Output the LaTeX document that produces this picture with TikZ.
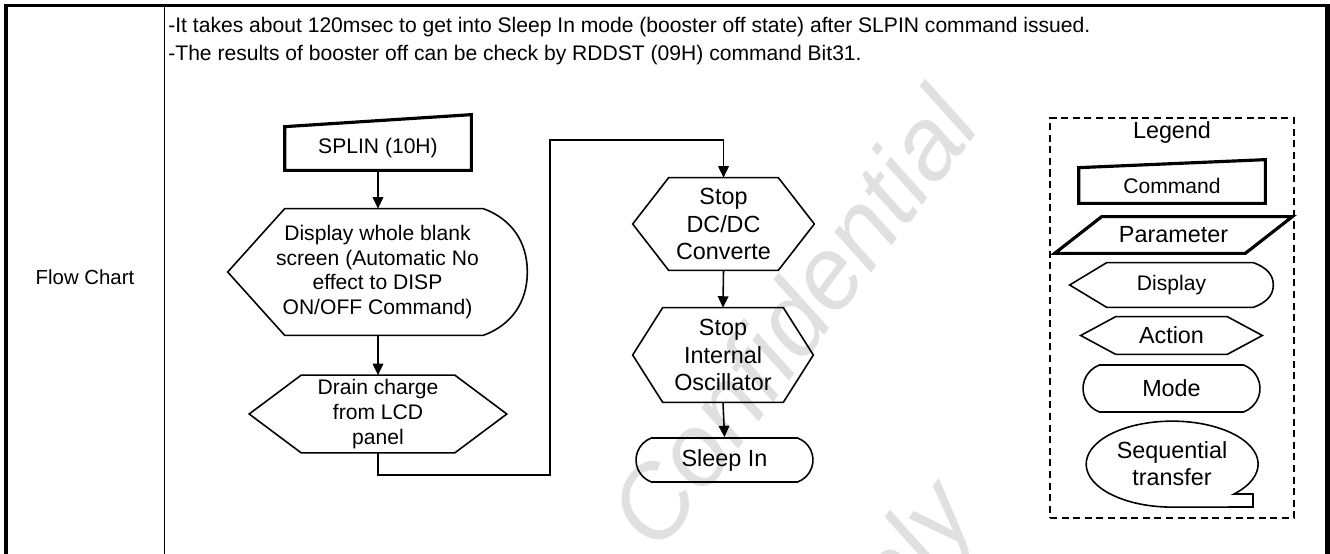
\documentclass[tikz,border=0pt]{standalone}
\usepackage{fontspec}
\setmainfont{Liberation Sans}
\usetikzlibrary{arrows.meta, positioning, calc, shapes.misc}

\newcommand{\smallsize}{\fontsize{12}{13.8}\selectfont}
\newcommand{\bigsize}{\fontsize{13.3}{15.4}\selectfont}
% outline of an action box: #1 node, #2 depth of the tips
\newcommand{\actionbox}[2]{%
  \draw[flow] (#1.west) -- ($(#1.north west)+(#2,0)$) -- ($(#1.north east)+(-#2,0)$) -- (#1.east)
    -- ($(#1.south east)+(-#2,0)$) -- ($(#1.south west)+(#2,0)$) -- cycle;}
% outline of a display box: #1 node, #2 left tip, #3 right bulge
\newcommand{\displaybox}[3]{%
  \draw[flow] (#1.west) -- ($(#1.north west)+(#2,0)$) -- ($(#1.north east)+(-#3,0)$)
    to[out=-20,in=90] (#1.east) to[out=-90,in=20] ($(#1.south east)+(-#3,0)$)
    -- ($(#1.south west)+(#2,0)$) -- cycle;}
% outline of a command box: #1 node, #2 rise of the top right corner
\newcommand{\commandbox}[2]{%
  \draw[bold] (#1.south west) -- (#1.north west) -- ($(#1.north east)+(0,-#2)$) -- (#1.south east) -- cycle;}

\begin{document}
\begin{tikzpicture}[x=0.02cm, y=-0.02cm, >={Triangle[length=6.5pt,width=6pt]},
    every node/.style={font=\smallsize, align=center, inner sep=0pt},
    flow/.style={line width=0.9pt},
    bold/.style={line width=1.8pt},
    mark text/.style={text=black!12, font=\fontsize{58}{60}\selectfont\itshape, rotate=53}]
  \useasboundingbox (0,0) rectangle (1330,554);

  % watermark
  \node[mark text] (wmark) at (792,318) {Confidential};
  \node[mark text] (wmark2) at (902,574) {only};

  % table
  \draw[line width=1.9pt] (4,5.5) -- (1329,5.5);
  \draw[line width=2.3pt] (6,4) -- (6,560);
  \draw[line width=2.6pt] (1327.5,4) -- (1327.5,560);
  \draw[line width=1.1pt] (164.5,5.5) -- (164.5,560);
  \node[font=\fontsize{11.6}{13}\selectfont] (rowname) at (85,277) {Flow Chart};
  \node[anchor=west] (note1) at (168,27) {-It takes about 120msec to get into Sleep In mode (booster off state) after SLPIN command issued.};
  \node[anchor=west] (note2) at (168,55) {-The results of booster off can be check by RDDST (09H) command Bit31.};

  % flow chart
  \node[minimum width=3.72cm, minimum height=0.86cm] (splin) at (378,148.5) {SPLIN (10H)};
  \commandbox{splin}{12}
  \node[minimum width=5.98cm, minimum height=2.52cm, font=\fontsize{12}{14.1}\selectfont] (blank) at (377.5,272)
    {Display whole blank\\screen (Automatic No\\effect to DISP\\ON/OFF Command)};
  \displaybox{blank}{57}{44}
  \node[minimum width=5.14cm, minimum height=1.54cm, font=\fontsize{12}{14.2}\selectfont] (drain) at (378,414)
    {Drain charge\\from LCD\\panel};
  \actionbox{drain}{52}
  \node[minimum width=3.62cm, minimum height=1.84cm, font=\bigsize] (dcdc) at (723.5,224) {Stop\\DC/DC\\Converte};
  \actionbox{dcdc}{36}
  \node[minimum width=3.60cm, minimum height=1.88cm, font=\bigsize] (osc) at (723,355) {Stop\\Internal\\Oscillator};
  \actionbox{osc}{30}
  \node[draw, flow, rounded rectangle, rounded rectangle arc length=140,
    minimum width=3.54cm, minimum height=0.88cm, font=\bigsize] (sleep) at (724.5,460) {Sleep In};

  \coordinate (turn) at (550,140);
  \draw[flow, ->] (splin.south) -- (splin.south |- blank.north);
  \draw[flow, ->] (drain.north |- blank.south) -- (drain.north);
  \draw[flow, ->] (drain.south) -- ++(0,22) -| (turn) -| (dcdc.north);
  \draw[flow, ->] (dcdc.south) -- (osc.north);
  \draw[flow, ->] (osc.south) -- (sleep.north);

  % legend
  \node[draw, line width=1pt, dash pattern=on 4pt off 2.6pt, minimum width=4.88cm, minimum height=8cm] (legendbox) at (1172,318) {};
  \node[font=\bigsize] (legendname) at (1172,132) {Legend};
  \node[minimum width=3.72cm, minimum height=0.70cm] (lcmd) at (1172,185.5) {Command};
  \commandbox{lcmd}{8}
  \node[minimum width=3.8cm, minimum height=0.72cm, font=\bigsize] (lpar) at (1173.5,235) {Parameter};
  \draw[bold] ($(lpar.north west)+(23.5,0)$) -- ($(lpar.north east)+(23.5,0)$)
    -- ($(lpar.south east)+(-23.5,0)$) -- ($(lpar.south west)+(-23.5,0)$) -- cycle;
  \node[minimum width=4.06cm, minimum height=0.88cm] (ldisp) at (1171.5,285) {Display};
  \displaybox{ldisp}{37}{20}
  \node[minimum width=3.62cm, minimum height=0.74cm, font=\bigsize] (lact) at (1171.5,335.5) {Action};
  \actionbox{lact}{35}
  \node[draw, flow, rounded rectangle, rounded rectangle arc length=140,
    minimum width=3.54cm, minimum height=0.94cm, font=\bigsize] (lmode) at (1171.5,388.5) {Mode};
  \node[minimum width=3.44cm, minimum height=1.72cm, font=\bigsize] (lseq) at (1172,464) {Sequential\\transfer};
  \draw[flow] ($(lseq)+(62,30)$) arc[start angle=-44, end angle=270, x radius=1.72cm, y radius=0.86cm]
    -- ($(lseq)+(81,43)$) -- ($(lseq)+(81,30)$) -- cycle;
\end{tikzpicture}
\end{document}
